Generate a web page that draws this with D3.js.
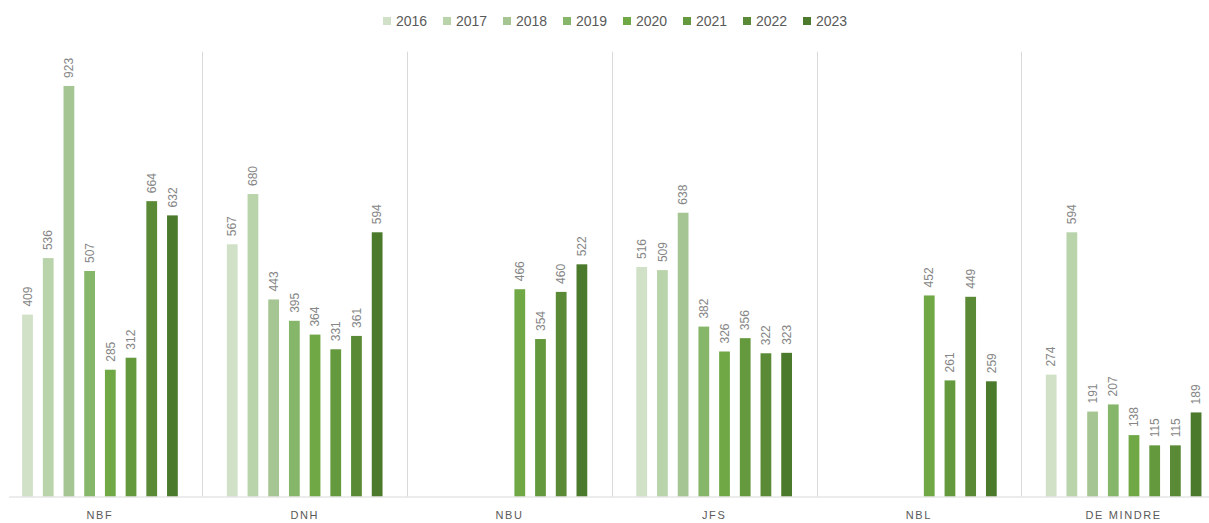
<!DOCTYPE html>
<html>
<head>
<meta charset="utf-8">
<script src="https://cdn.jsdelivr.net/npm/d3@7"></script>
<style>
  body { margin: 0; background: #fff; }
  svg { display: block; font-family: "Liberation Sans", Arial, sans-serif; }
</style>
</head>
<body>
<div class="chart"></div>
<script>
// data
const categories = ['NBF', 'DNH', 'NBU', 'JFS', 'NBL', 'DE MINDRE'];
const years = ['2016', '2017', '2018', '2019', '2020', '2021', '2022', '2023'];
const values = {
    'NBF':       [409, 536, 923, 507, 285, 312, 664, 632],
    'DNH':       [567, 680, 443, 395, 364, 331, 361, 594],
    'NBU':       [null, null, null, null, 466, 354, 460, 522],
    'JFS':       [516, 509, 638, 382, 326, 356, 322, 323],
    'NBL':       [null, null, null, null, 452, 261, 449, 259],
    'DE MINDRE': [274, 594, 191, 207, 138, 115, 115, 189]
};
const colors = ['#d0e1c8', '#b9d4ab', '#a5c692', '#86b66a', '#6fa845', '#64993d', '#5a8a36', '#4c7a2d'];

const width = 1209, height = 523;

const svg = d3.select('.chart').append('svg')
    .attr('width', width)
    .attr('height', height);

const x0 = d3.scaleBand()
    .domain(categories)
    .range([-2.4, 1226]);

const x1 = d3.scaleBand()
    .domain(years)
    .range([0, x0.bandwidth()])
    .paddingInner(0.48)
    .paddingOuter(1.185);

const y = d3.scaleLinear()
    .domain([0, 1000])
    .range([496.5, 51.7]);

const color = d3.scaleOrdinal().domain(years).range(colors);

// separators between categories
svg.append('g')
    .selectAll('line')
    .data(categories.slice(1))
    .join('line')
    .attr('x1', d => Math.round(x0(d)) + 0.5)
    .attr('x2', d => Math.round(x0(d)) + 0.5)
    .attr('y1', y(1000))
    .attr('y2', y(0))
    .attr('stroke', '#d9d9d9');

const flat = [];
categories.forEach(c => {
    values[c].forEach((v, i) => {
        if (v != null) flat.push({cat: c, year: years[i], value: v});
    });
});

svg.append('g')
    .selectAll('rect')
    .data(flat)
    .join('rect')
    .attr('x', d => x0(d.cat) + x1(d.year))
    .attr('y', d => y(d.value))
    .attr('width', x1.bandwidth())
    .attr('height', d => y(0) - y(d.value))
    .attr('fill', d => color(d.year));

// value labels, rotated
svg.append('g')
    .selectAll('text')
    .data(flat)
    .join('text')
    .attr('transform', d => `translate(${x0(d.cat) + x1(d.year) + x1.bandwidth() / 2},${y(d.value) - 8}) rotate(-90)`)
    .attr('dy', '0.35em')
    .attr('font-size', 12)
    .attr('fill', '#868686')
    .text(d => d.value);

// x axis
const xAxis = svg.append('g')
    .attr('transform', `translate(0,${y(0)})`)
    .call(d3.axisBottom(x0).tickSize(0).tickPadding(15));
xAxis.select('.domain').remove();
xAxis.append('line')
    .attr('x1', 9).attr('x2', width)
    .attr('y1', 0.5).attr('y2', 0.5)
    .attr('stroke', '#d9d9d9');
xAxis.selectAll('text')
    .attr('font-family', '"Liberation Sans", Arial, sans-serif')
    .attr('font-size', 11)
    .attr('fill', '#595959')
    .attr('letter-spacing', '1.6px');

// legend
const legend = svg.append('g').attr('transform', 'translate(383,21)');
const item = legend.selectAll('g')
    .data(years)
    .join('g')
    .attr('transform', (d, i) => `translate(${i * 60},0)`);
item.append('rect')
    .attr('x', 0).attr('y', -4)
    .attr('width', 8).attr('height', 8)
    .attr('fill', d => color(d));
item.append('text')
    .attr('x', 13)
    .attr('dy', '0.35em')
    .attr('font-size', 14)
    .attr('fill', '#595959')
    .text(d => d);
</script>
</body>
</html>
